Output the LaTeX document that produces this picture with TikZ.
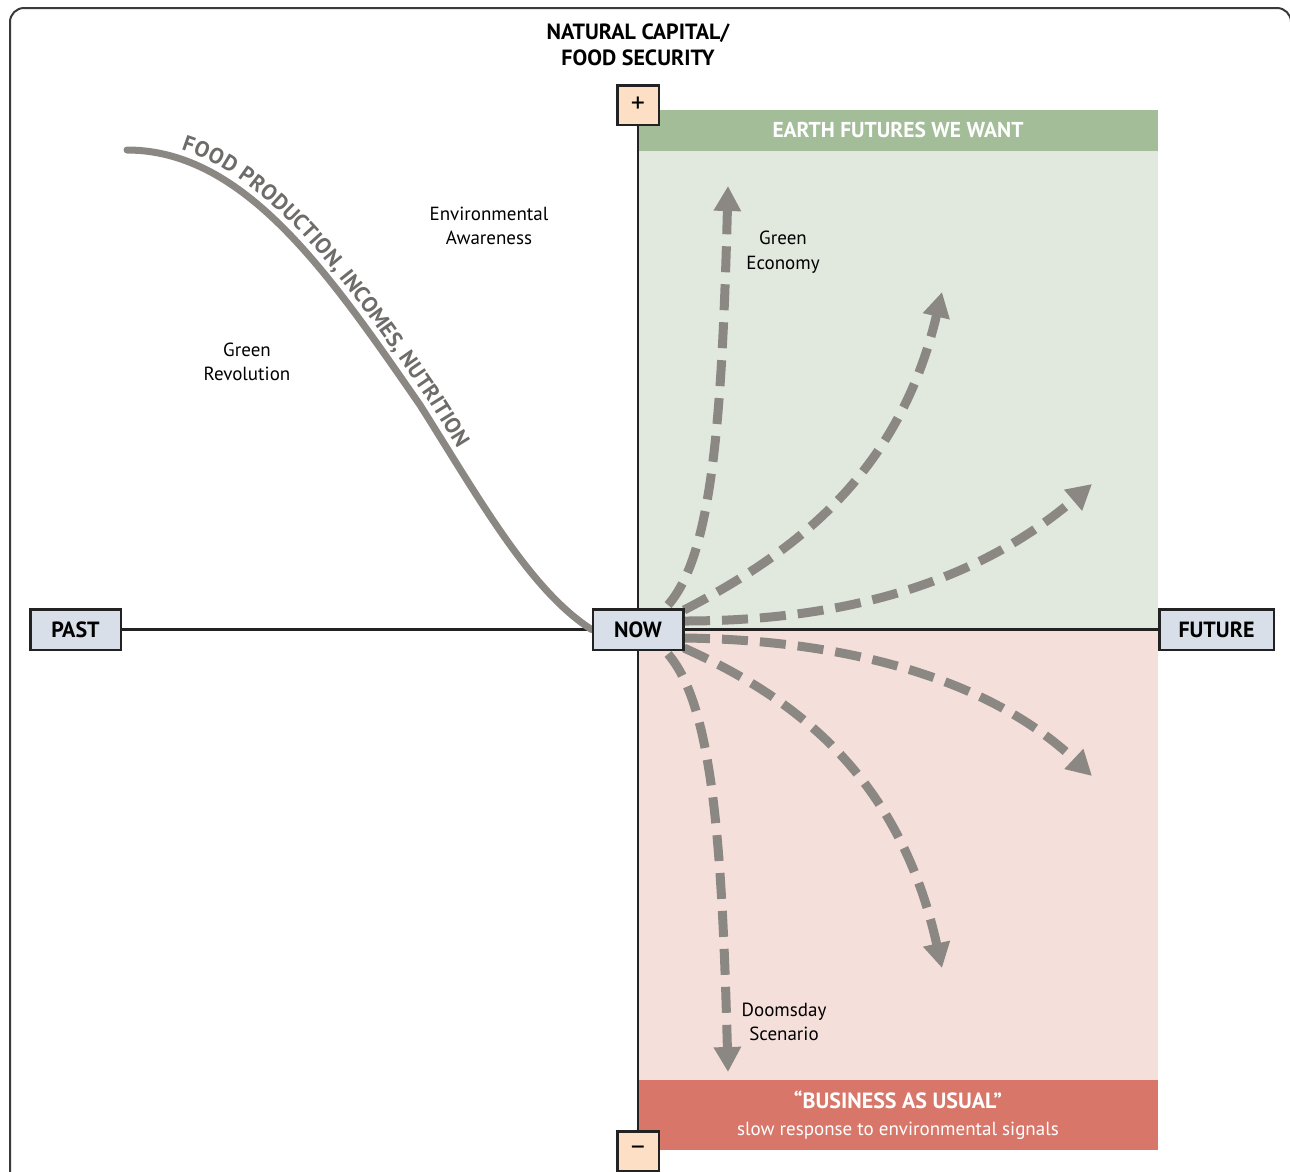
\documentclass[tikz,border=0pt]{standalone}
\usepackage{fontspec}
\setmainfont{PT Sans}
\usetikzlibrary{arrows.meta,decorations.text,calc}
\definecolor{hdrgreen}{HTML}{A3BD98}
\definecolor{lightgreen}{HTML}{E1E8DE}
\definecolor{lightred}{HTML}{F5DFDA}
\definecolor{ftrred}{HTML}{D87769}
\definecolor{boxfill}{HTML}{D9DFE8}
\definecolor{plusfill}{HTML}{FCDFC5}
\definecolor{arrowgray}{HTML}{8B8884}
\definecolor{foodtext}{HTML}{6E6C6A}
\definecolor{linedark}{HTML}{222222}
\definecolor{framegray}{HTML}{3A3A3A}
\pgfdeclarelayer{bg}
\pgfdeclarelayer{mid}
\pgfsetlayers{bg,mid,main}
\begin{document}
\begin{tikzpicture}[x=1pt,y=-1pt,
  axisbox/.style={draw=linedark, line width=2.5pt, fill=boxfill, font=\bfseries\fontsize{22}{22}\selectfont, minimum height=40.5pt, inner sep=0pt},
  signbox/.style={draw=linedark, line width=2.5pt, fill=plusfill, font=\fontsize{28}{28}\selectfont, minimum width=41.5pt, minimum height=39.5pt, inner sep=0pt},
  axisline/.style={draw=linedark, line width=2.5pt},
  scen/.style={draw=arrowgray, line width=9pt, dash pattern=on 26pt off 12pt, -{Triangle[width=26pt,length=25pt]}},
  lbl/.style={align=center, font=\fontsize{19}{24.5}\selectfont, inner sep=0pt},
  band/.style={text=white, align=center, inner sep=0pt},
  food/.style={draw=arrowgray, line width=7pt, line cap=round}
]
\useasboundingbox (0,0) rectangle (1290,1171);
\begin{scope}
\clip (0,0) rectangle (1290,1171);
\draw[framegray, line width=2pt, rounded corners=14pt] (10,8) rectangle (1291,1260);
\end{scope}

% background fields
\begin{pgfonlayer}{bg}
\fill[lightgreen] (638,110) rectangle (1158,630);
\fill[hdrgreen] (638,110) rectangle (1158,151);
\fill[lightred] (638,630) rectangle (1158,1080);
\fill[ftrred] (638,1080) rectangle (1158,1150);
\end{pgfonlayer}

\node[band, font=\bfseries\fontsize{21.5}{21.5}\selectfont] (earth) at (898,130) {EARTH FUTURES WE WANT};
\node[band, anchor=base] (bau) at (898,1108) {\bfseries\fontsize{22}{22}\selectfont “BUSINESS AS USUAL”};
\node[band, anchor=base, font=\fontsize{19}{19}\selectfont] (slow) at (898,1135) {slow response to environmental signals};

% axis title
\node[align=center, font=\bfseries\fontsize{22}{26}\selectfont, inner sep=0pt] (title) at (638,45) {NATURAL CAPITAL/\\FOOD SECURITY};

% boxes
\node[axisbox, minimum width=90.5pt] (PAST) at (75.5,629.5) {PAST};
\node[axisbox, minimum width=90.5pt] (NOW) at (638,629.5) {NOW};
\node[axisbox, minimum width=114.5pt] (FUTURE) at (1216.5,629.5) {FUTURE};
\node[signbox] (plus) at (638,105) {+};
\node[signbox] (minus) at (638,1151) {\raisebox{-2pt}{−}};

% axes
\begin{pgfonlayer}{mid}
\draw[axisline] (PAST) -- (NOW) -- (FUTURE);
\draw[axisline] (plus) -- (NOW) -- (minus);

% food production curve
\coordinate (fs) at (127,150);
\draw[food] (fs) .. controls (245,150) and (330,275) .. (420,405)
  .. controls (480,500) and (530,590) .. (NOW.west);
\path[decorate, decoration={text along path, raise=9pt, text align={left indent=52pt},
  text={|\bfseries\fontsize{22}{22}\selectfont\color{foodtext}|FOOD PRODUCTION, INCOMES, NUTRITION}}]
  (fs) .. controls (245,150) and (330,275) .. (420,405)
  .. controls (480,500) and (530,590) .. (592,618);

% scenario arrows
\coordinate (s1) at (668,605); \coordinate (t1) at (728,186);
\coordinate (s2) at (684,610); \coordinate (t2) at (942,292);
\coordinate (s3) at (684,621); \coordinate (t3) at (1092,484);
\coordinate (s4) at (684,638); \coordinate (t4) at (1092,776);
\coordinate (s5) at (684,648); \coordinate (t5) at (942,968);
\coordinate (s6) at (668,654); \coordinate (t6) at (728,1072);
\draw[scen] (s1) .. controls (712,555) and (722,420) .. (t1);
\draw[scen] (s2) .. controls (800,550) and (900,470) .. (t2);
\draw[scen] (s3) .. controls (850,621) and (980,580) .. (t3);
\draw[scen] (s4) .. controls (850,640) and (990,680) .. (t4);
\draw[scen] (s5) .. controls (800,700) and (900,780) .. (t5);
\draw[scen] (s6) .. controls (712,705) and (722,840) .. (t6);
\end{pgfonlayer}

% labels
\node[lbl] (ge) at (783,252) {Green\\Economy};
\node[lbl] (ds) at (784,1022) {Doomsday\\Scenario};
\node[lbl] (ea) at (489,226) {Environmental\\Awareness};
\node[lbl] (gr) at (247,362) {Green\\Revolution};
\end{tikzpicture}
\end{document}
